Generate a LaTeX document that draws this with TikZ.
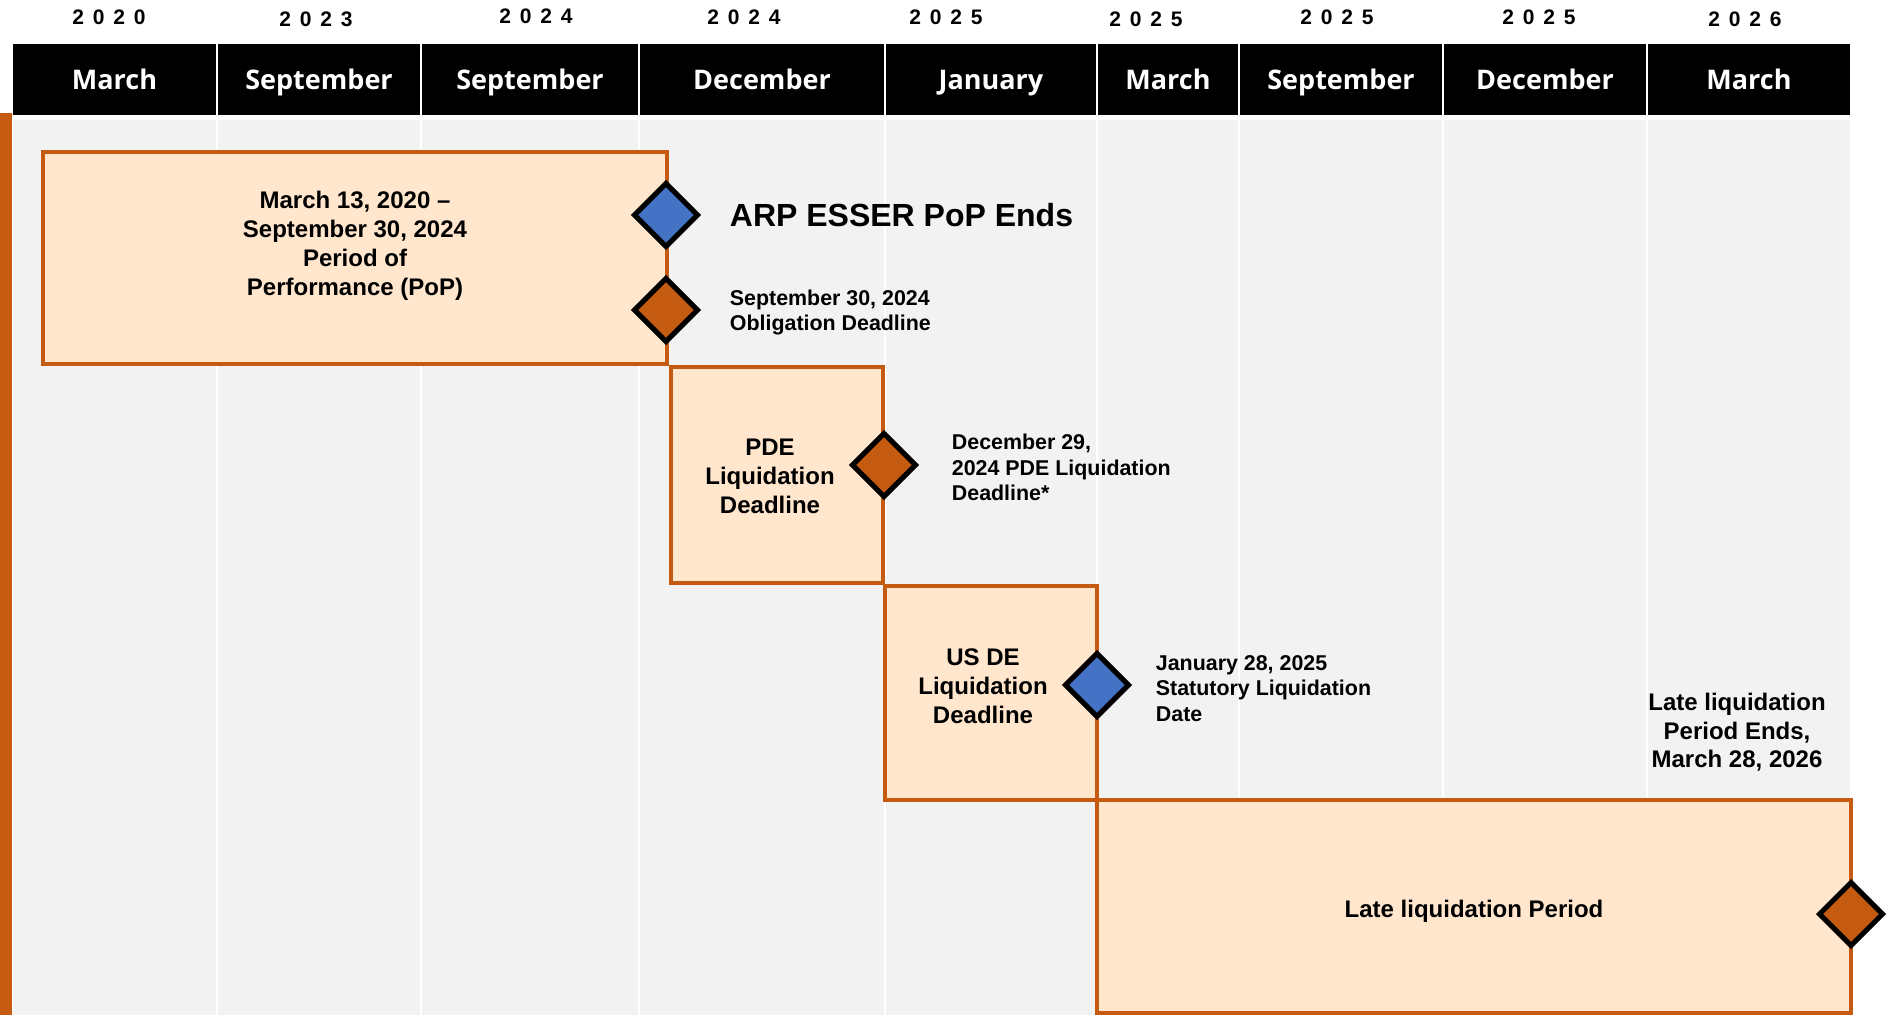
\documentclass[tikz,border=0pt]{standalone}
\usepackage{fontspec}
\setmainfont{Liberation Sans}
\newfontfamily\headfont{Open Sans}
\usepackage{tikz}
\usetikzlibrary{positioning, shapes.geometric}

\definecolor{rust}{HTML}{C55A11}
\definecolor{peach}{HTML}{FFE6CD}
\definecolor{gemblue}{HTML}{4472C4}
\definecolor{panel}{HTML}{F2F2F2}

\def\splityear#1#2#3#4{#1\kern4.4pt #2\kern4.4pt #3\kern4.4pt #4}
\newcommand{\spacedyear}[1]{\expandafter\splityear#1}

\begin{document}
\begin{tikzpicture}[x=0.5pt, y=-0.5pt,
    monthcell/.style={fill=black, text=white, font=\headfont\bfseries\fontsize{13.5}{16}\selectfont,
        minimum height=35.5pt, text height=12pt, text depth=1.5pt, inner sep=0pt, outer sep=0pt},
    yearlbl/.style={font=\bfseries\fontsize{10.5}{12}\selectfont, inner sep=0pt},
    period/.style={draw=rust, fill=peach, line width=2.2pt, anchor=north west, inner sep=0pt, outer sep=0pt},
    boxtext/.style={font=\bfseries\fontsize{12}{14.5}\selectfont, align=center, inner sep=0pt},
    gem/.style={diamond, draw=black, line width=2.5pt, minimum width=31.5pt, minimum height=31.5pt,
        inner sep=0pt, outer sep=0pt},
    bluegem/.style={gem, fill=gemblue},
    rustgem/.style={gem, fill=rust},
    note/.style={font=\bfseries\fontsize{10.7}{12.8}\selectfont, align=left, inner sep=0pt}]

    \useasboundingbox (0,0) rectangle (1893,1015);
    \fill[panel] (13,120) rectangle (1850,1015);
    \foreach \x in {217,421,639,885,1097,1239,1443,1647}
        \draw[white, line width=1pt] (\x,120) -- (\x,1015);
    \fill[rust] (0,113) rectangle (12,1015);

    \foreach \l/\r/\m/\yv/\yx/\yy [count=\i] in {
        13/216/March/2020/109/17.5, 218/420/September/2023/316/18.8,
        422/638/September/2024/536/15.8, 640/884/December/2024/744/17,
        886/1096/January/2025/946/17, 1098/1238/March/2025/1146/19.7,
        1240/1442/September/2025/1337/17.5, 1444/1646/December/2025/1539/17.5,
        1648/1850/March/2026/1745/19} {
        \node[monthcell, minimum width={(\r-\l)*0.5pt}] (m\i) at ({(\l+\r)/2},79.5) {\m};
        \node[yearlbl] (y\i) at (\yx,\yy) {\spacedyear\yv};
    }

    \node[period, minimum width=312pt, minimum height=106pt] (pop) at (43,152) {};
    \node[period, minimum width=106pt, minimum height=108pt] (pde) at (671,367) {};
    \node[period, minimum width=106pt, minimum height=107pt] (usde) at (885,586) {};
    \node[period, minimum width=377pt, minimum height=106.5pt] (late) at (1097,800) {};

    \node[boxtext] (poptxt) at (355,246) {March 13, 2020 –\\September 30, 2024\\Period of\\Performance (PoP)};
    \node[boxtext] (pdetxt) at (770,476) {PDE\\Liquidation\\Deadline};
    \node[boxtext] (usdetxt) at (983,686) {US DE\\Liquidation\\Deadline};
    \node[boxtext] (latetxt) at (1474,911.5) {Late liquidation Period};

    \node[bluegem] (arpgem) at (666,215) {};
    \node[rustgem] (obligem) at (666,310) {};
    \node[rustgem] (pdegem) at (884,465) {};
    \node[bluegem] (usdegem) at (1097,685) {};
    \node[rustgem] (lategem) at (1851,914) {};

    \node[note, font=\bfseries\fontsize{16}{19}\selectfont, right=16pt of arpgem] (arplbl) {ARP ESSER PoP Ends};
    \node[note, right=16pt of obligem, yshift=-1.3pt] (obliglbl) {September 30, 2024\\Obligation Deadline};
    \node[note, right=18pt of pdegem, yshift=-1.3pt] (pdelbl) {December 29,\\2024 PDE Liquidation\\Deadline*};
    \node[note, right=13.5pt of usdegem, yshift=-1.8pt] (usdelbl) {January 28, 2025\\Statutory Liquidation\\Date};
    \node[boxtext, font=\bfseries\fontsize{12}{14.25}\selectfont] (endlbl) at (1737,732.5) {Late liquidation\\Period Ends,\\March 28, 2026};
\end{tikzpicture}
\end{document}
